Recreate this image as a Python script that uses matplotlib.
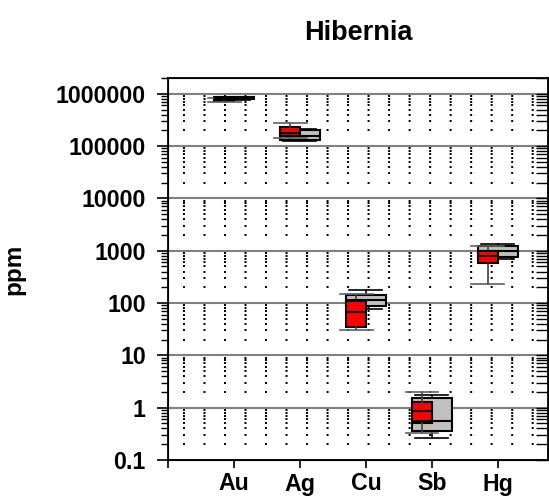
import numpy as np
import matplotlib
matplotlib.use('Agg')
import matplotlib.pyplot as plt

plt.rcParams['font.family'] = ['Liberation Sans', 'DejaVu Sans']
plt.rcParams['font.weight'] = 'bold'
plt.rcParams['lines.scale_dashes'] = False

elements = ['Au', 'Ag', 'Cu', 'Sb', 'Hg']

# red series (box stats, ppm)
red_lo = [700000, 144000, 30, 0.33, 235]
red_q1 = [740000, 156000, 34.5, 0.52, 570]
red_med = [777000, 180000, 67, 0.875, 790]
red_q3 = [815000, 235000, 109, 1.26, 1000]
red_hi = [840000, 273000, 147, 1.97, 1210]

# gray series (box stats, ppm)
gray_lo = [760000, 126000, 78, 0.265, 693]
gray_q1 = [780000, 130000, 87.5, 0.356, 743]
gray_med = [820000, 156000, 113, 0.56, 1000]
gray_q3 = [860000, 203000, 141, 1.51, 1210]
gray_hi = [880000, 210000, 176, 1.75, 1345]


def make_stats(lo, q1, med, q3, hi):
    return [dict(whislo=a, q1=b, med=c, q3=d, whishi=e, fliers=[])
            for a, b, c, d, e in zip(lo, q1, med, q3, hi)]


fig = plt.figure(figsize=(5.49, 5.0), dpi=100)
ax = fig.add_axes([168 / 549, 40 / 500, 380 / 549, 382 / 500])

pos = np.arange(1, len(elements) + 1)

ax.bxp(make_stats(gray_lo, gray_q1, gray_med, gray_q3, gray_hi),
       positions=pos, widths=0.6, capwidths=0.5, patch_artist=True,
       showfliers=False,
       boxprops=dict(facecolor='#c0c0c0', edgecolor='black', linewidth=1.5),
       medianprops=dict(color='black', linewidth=1.5),
       whiskerprops=dict(color='black', linewidth=1.2),
       capprops=dict(color='black', linewidth=1.2))

ax.bxp(make_stats(red_lo, red_q1, red_med, red_q3, red_hi),
       positions=pos - 0.15, widths=0.3, capwidths=0.5, patch_artist=True,
       showfliers=False,
       boxprops=dict(facecolor='#ff0000', edgecolor='black', linewidth=1.5),
       medianprops=dict(color='black', linewidth=1.5),
       whiskerprops=dict(color='#404040', linewidth=1.2),
       capprops=dict(color='#606060', linewidth=1.2))

ax.set_yscale('log')
ax.set_ylim(0.1, 2e6)
ax.set_xlim(0, 5.76)
ax.set_yticks([0.1, 1, 10, 100, 1000, 10000, 100000, 1000000])
ax.set_yticklabels(['0.1', '1', '10', '100', '1000', '10000', '100000', '1000000'])
ax.set_xticks([0] + list(pos))
ax.set_xticklabels([''] + elements)

ax.set_axisbelow(True)
ax.grid(which='major', axis='y', color='#808080', linewidth=1.5)
ax.grid(which='minor', axis='y', color='black', linewidth=1.4,
        linestyle=(4.0, (1.44, 13.33)))
ax.grid(which='both', axis='x', visible=False)

ax.tick_params(axis='y', which='major', direction='out', length=8, width=1.2,
               labelsize=16.7, pad=8)
ax.tick_params(axis='y', which='minor', direction='out', length=5, width=1.0)
ax.tick_params(axis='x', which='major', direction='out', length=6, width=1.2,
               labelsize=16.7, pad=3)
for s in ax.spines.values():
    s.set_linewidth(1.3)

ax2 = ax.twinx()
ax2.set_yscale('log')
ax2.set_ylim(ax.get_ylim())
ax2.tick_params(axis='y', which='both', direction='in', length=8.5, width=1.0,
                labelright=False)

ax.set_title('Hibernia', fontsize=19.5, fontweight='bold', pad=27)
ax.set_ylabel('ppm', fontsize=17.5, fontweight='bold')
ax.yaxis.set_label_coords(-0.376, 0.5)

fig.savefig('out.png', dpi=100)
